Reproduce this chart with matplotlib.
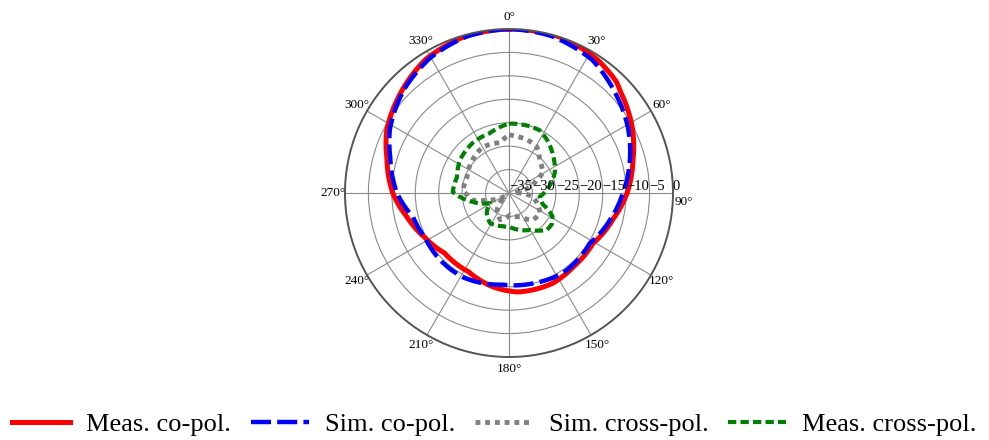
import matplotlib.pyplot as plt
import numpy as np

plt.rcParams['font.family'] = ['Liberation Serif', 'DejaVu Serif']

# radiation patterns, angle in degrees, level in dB
meas_co_theta = [0, 19, 34, 44, 48, 62, 75, 90, 104, 121, 139, 154, 175, 190, 207, 227, 242, 257, 270, 286, 297, 310, 328, 344, 360]
meas_co_db = [0, 0, -0.9, -2.0, -2.9, -5.2, -7.6, -9.8, -12.1, -14.1, -14.1, -13.6, -13.8, -14.7, -16.1, -16.2, -14.7, -12.6, -10.2, -7.9, -5.7, -3.9, -1.4, -0.3, 0]

sim_co_theta = [0, 15, 32, 47, 61, 75, 90, 105, 122, 146, 163, 184, 209, 226, 242, 256, 270, 287, 298, 315, 330, 345, 360]
sim_co_db = [0, -0.3, -1.5, -3.9, -6.0, -8.3, -10.7, -12.7, -14.7, -14.4, -15.0, -15.4, -14.5, -14.5, -14.7, -13.9, -11.1, -8.5, -6.2, -3.5, -1.6, -0.4, 0]

sim_cross_theta = [0, 8, 19, 31, 43, 59, 65, 74, 86, 98, 110, 123, 138, 155, 177, 198, 215, 232, 250, 259, 274, 291, 312, 330, 350, 360]
sim_cross_db = [-22.6, -22.8, -23.0, -23.5, -25.4, -26.6, -28.4, -30.3, -34.0, -30.0, -28.6, -27.1, -27.3, -29.4, -30.3, -29.0, -30.5, -34.0, -30.7, -27.1, -25.2, -25.4, -24.5, -23.7, -24.1, -22.6]

meas_cross_theta = [0, 15, 26, 36, 51, 66, 85, 97, 108, 118, 126, 134, 150, 178, 190, 212, 228, 242, 256, 271, 287, 304, 324, 342, 360]
meas_cross_db = [-20.2, -20.1, -20.1, -21.1, -22.8, -24.3, -26.9, -28.4, -27.5, -24.5, -23.7, -23.7, -25.9, -27.7, -27.8, -27.4, -28.6, -30.4, -27.1, -23.0, -23.4, -22.4, -21.8, -21.6, -20.2]

r_ticks = [-35, -30, -25, -20, -15, -10, -5, 0]
theta_ticks = list(range(0, 360, 30))

fig = plt.figure(figsize=(9.89, 4.4), dpi=100)
ax = fig.add_axes([0.3488, 0.1886, 0.3317, 0.7455], projection='polar')

ax.set_theta_zero_location('N')
ax.set_theta_direction(-1)
ax.set_ylim(-35, 0)
ax.set_yticks(r_ticks)
ax.set_yticklabels([])
theta_labels = [f"{t}°" if t != 90 else '' for t in theta_ticks]
ax.set_thetagrids(theta_ticks, theta_labels, fontsize=9.5)
ax.tick_params(axis='x', pad=-2)
ax.grid(True, color='#8a8a8a', linewidth=0.8)
ax.spines['polar'].set_color('#555555')
ax.spines['polar'].set_linewidth(1.4)

# radial labels sit just above the 90 deg spoke, starting at each ring
for r in r_ticks:
    ax.text(np.pi / 2, r, f"{r}".replace('-', '\u2212'), fontsize=10.5,
            ha='left', va='bottom')
# 90 deg label goes under the spoke, below the "0"
ax.annotate('90°', xy=(np.pi / 2, 0), xytext=(1, -2), textcoords='offset points',
            fontsize=9.5, ha='left', va='top')

lines = []
lines += ax.plot(np.deg2rad(meas_co_theta), meas_co_db, color='red', linewidth=3.6,
                 label='Meas. co-pol.')
lines += ax.plot(np.deg2rad(sim_co_theta), sim_co_db, color='blue', linewidth=3.2,
                 linestyle=(0, (4.5, 1.4)), label='Sim. co-pol.')
lines += ax.plot(np.deg2rad(sim_cross_theta), sim_cross_db, color='gray', linewidth=3.5,
                 linestyle=(0, (1, 1)), label='Sim. cross-pol.')
lines += ax.plot(np.deg2rad(meas_cross_theta), meas_cross_db, color='green', linewidth=3,
                 linestyle=(0, (2, 1)), label='Meas. cross-pol.')
for ln in lines:
    # draw segments as arcs in polar space
    ln.get_path()._interpolation_steps = 30

fig.legend(loc='lower center', bbox_to_anchor=(0.5, -0.045), ncol=4, frameon=False,
           fontsize=19, handlelength=2.2, handletextpad=0.6, columnspacing=0.75)

fig.savefig('out.png', dpi=100)
